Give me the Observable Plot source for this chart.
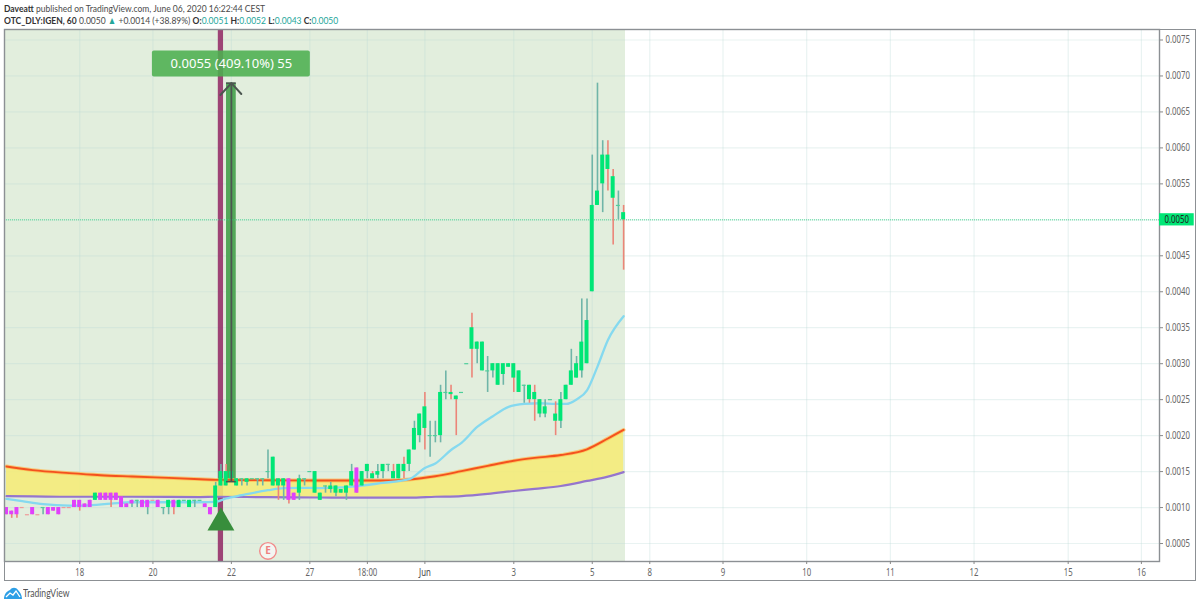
<!DOCTYPE html>
<html><head><meta charset="utf-8">
<script src="https://cdn.jsdelivr.net/npm/d3@7"></script>
<script src="https://cdn.jsdelivr.net/npm/@observablehq/plot@0.6"></script>
<style>
html,body{margin:0;padding:0;background:#fff;width:1200px;height:605px;overflow:hidden;font-family:"Lato",sans-serif}
#head{height:28px;box-sizing:border-box;padding:2px 0 0 4px;font-size:10.2px;line-height:12px;color:#4a4a4a;white-space:nowrap;transform:scaleX(.836);transform-origin:4px 0}
#head b{color:#333;font-weight:700}#head i{font-style:normal;color:#26a69a}
#chart{position:relative;height:553px}
#chart svg{display:block}
#outer{position:absolute;left:4px;top:0.5px;width:1192px;height:552px;box-sizing:border-box;border:1px solid #8c9094;pointer-events:none}
#foot{height:24px;position:relative;font-size:10.5px;color:#555}
#foot span{position:absolute;left:23px;top:5px;line-height:14px;transform:scaleX(.82);transform-origin:0 0}
#foot svg{position:absolute;left:4px;top:5px}
</style></head><body>
<div id="head"><div><b>Daveatt</b> published on TradingView.com, June 06, 2020 16:22:44 CEST</div>
<div><b>OTC_DLY:IGEN, 60</b> 0.0050 <i>▲</i> +0.0014 (+38.89%) <b>O:</b><i>0.0051</i> <b>H:</b><i>0.0052</i> <b>L:</b><i>0.0043</i> <b>C:</b><i>0.0050</i></div></div>
<div id="chart"></div>
<div id="foot"><svg width="18" height="13" viewBox="0 0 18 13"><path d="M0 13C0 8 3 5 6 4C8 1 12 1 14 4C16 6 18 9 18 13Z" fill="#2e9fe6"/><path d="M2 11L6 7L9 9L12 5L16 11" fill="none" stroke="#fff" stroke-width="1.3"/></svg><span>TradingView</span></div>
<script>
// Prices are read in ticks of 0.0001, one entry per hourly bar
const tick = 0.0001;
const open = [10,9.5,10,10,9,10,9,10,10,10, 10,10,10,11,11,10.5,11,11,12,12, 12,12,11.5,10.5,10.5,11,11,10,11,11, 10,10,11,10,11,10,11,11,10.5,10, 10,13,15,14,13,14,13.5,14,14,14, 15,13,14,13,14,12,12,14,15,12, 11,13,12.5,12,12,12,13,15.5,13,15, 14.7,14.5,15,16,15,14,16,16,18,20, 24,20,20,20,26,26,25.5,26,30,35, 32,29,29,29,27,28.5,29.5,30,26,27, 27,26,23,23,25,23,22,25,27,28, 29,30,40,52,55,59,56,52,51];
const close = [9,9,9,10,9,9,9,10,9,9.5, 9,10,10,10,10,10,10,12,11,11, 11,11,10,10,11,11,10,11,11,10, 10,11,10,11,11,11,11,11,10,9, 13,15,13,15,14,14,14,14,14,14, 15,17,13,14,11,11,14,14,15,15, 12,13,13,13,12.5,13,15,12,15,16, 14,15,16,16,14,16,15,18,21,23, 21,20,20,26,26,25.7,25,26,30,32, 33,33,29,30,30,30,30,28,29,27, 25,25,25,24,25,22,25,27,29,30, 33,36,52,54,59,57,53,52,50];
const high = [10,9.5,10,10,9,10,9,10,10,10, 10,10,10,11,11,10.5,11,12,12,12, 12,12,11.5,10.5,11,11,11,11,11,11, 10,11,11,11,11,11,11,11,10.5,10, 13.5,16,16,15,14,14,14,14,14,14, 18,17,14,14,14,12,14.5,14,15,15, 12,13,13.5,13,12.5,13,16,15.5,15,16, 15,16,16,16,16,16,17,18,22,23, 26,22,22,27,29,27,25.5,26,30,37, 33,33,31,30,30,30,30,30,29,27, 27,27,25,25,25,24.7,26,27,32,31, 39,39,59,69,61,61,57,54,52];
const low = [9,8.5,8.5,10,9,9,9,9,9,9.5, 9,10,10,10,9.5,10,10,11,11,11, 10,11,10,10,10,10,10,9,11,10, 9,9,9,10,11,10,10,11,10,9, 10,13,13,14,13,13,13,14,13,13, 14,13,11,11,10.5,11,11,13,15,12, 11,12,12,11.5,12,11,13,12,13,14, 14,14,14,15,14,14,14,15,18,19, 18,17,19,19,25,25,20,26,30,28, 30,29,26,28,27,27,29.5,26,26,24.5, 24.5,22,22.5,22.5,25,20,21,25,27,28, 28,30,40,52,51,54,46.5,50,43];
const magentaBars = [0,1,2,3,4,5,6,8,9,10,11,12,13,14,15,16,18,19,20,21,22,23,24,26,27,28,29,32,38,39,54,55,67];

// Moving averages read at sampled bars
const bandBars = [0,5,12,18,24,31,37,40,50,60,66,73,77,82,87,92,97,101,106,111,115,118];
const slowUpper = [15.71,15.2,14.78,14.5,14.32,14.12,13.94,13.85,13.8,13.76,13.76,13.76,13.9,14.36,15.06,15.8,16.5,16.9,17.3,18.1,19.6,20.8];
const slowLower = [11.58,11.55,11.5,11.5,11.5,11.48,11.46,11.5,11.44,11.4,11.37,11.37,11.37,11.5,11.6,11.9,12.3,12.6,13.0,13.7,14.3,14.92];
const fastBars = [0,3,7,12,15,20,24,31,37,40,42,45,50,53,58,60,66,72,77,80,82,85,87,90,93,96,99,102,105,107,109,111,113,115,118];
const fastLine = [11.2,10.88,10.47,10.28,10.28,10.56,10.74,10.74,10.74,10.8,11.26,11.72,12.41,12.7,12.73,12.7,12.9,13.43,13.94,15.5,16.13,18,19,21.2,22.7,24,24.4,24.5,24.4,24.4,25.03,26.3,29.6,33.3,36.6];

const xTickBars = [14,28,43,58,69,80,97,112,123,137,153,169,185,203,217];
const xTickLabels = ["18","20","22","27","18:00","Jun","3","5","8","9","10","11","12","15","16"];
const priceTicks = [5,10,15,20,25,30,35,40,45,50,55,60,65,70,75];
const lastPrice = 50;
const signalBar = 41, rangeBar = 43, earningsBar = 50, lastShadedEdge = 118.36;
const rangeTop = 69, rangeBottom = 13.6;
const rangeLabel = "0.0055 (409.10%) 55";

const domX = [-0.38, 220.46], domY = [2.5, 76.46];
const p = v => v * tick;
const bars = open.map((o,i)=>({i,o:p(o),c:p(close[i]),h:p(high[i]),l:p(low[i]),down:close[i]<o,mag:magentaBars.includes(i),flat:close[i]===o}));
const band = bandBars.map((b,k)=>({b,u:p(slowUpper[k]),d:p(slowLower[k])}));
const fast = fastBars.map((b,k)=>({b,v:p(fastLine[k])}));
const wickCol = d=>d.down?"#ec8579":"#6fb5a8";
const grid = "#bcd9d6";

const plot = Plot.plot({
  width:1200,height:553,marginTop:1,marginBottom:20,marginLeft:4,marginRight:41,
  style:{fontFamily:"Noto Sans",fontSize:"10px",background:"transparent"},
  x:{domain:domX,axis:null},
  y:{domain:domY.map(p),axis:null},
  marks:[
    Plot.rect([0],{x1:domX[0],x2:lastShadedEdge,y1:p(domY[0]),y2:p(domY[1]),fill:"#e2eedd"}),
    Plot.gridX(xTickBars,{stroke:grid,strokeOpacity:0.32,strokeWidth:1.2}),
    Plot.gridY(priceTicks.map(p),{stroke:grid,strokeOpacity:0.32,strokeWidth:1.2}),
    Plot.rect([signalBar],{x1:d=>d-0.5,x2:d=>d+0.5,y1:p(domY[0]),y2:p(domY[1]),fill:"#8e1f5e",fillOpacity:0.82}),
    Plot.rect([rangeBar],{x1:d=>d-0.93,x2:d=>d+0.93,y1:p(rangeBottom),y2:p(rangeTop),fill:"#3f9e47",fillOpacity:0.88}),
    Plot.areaY(band,{x:"b",y1:"u",y2:"d",fill:"#f5ec78",fillOpacity:0.88,curve:"monotone-x"}),
    Plot.line(band,{x:"b",y:"d",stroke:"#9575cd",strokeWidth:2.2,curve:"monotone-x"}),
    Plot.line(band,{x:"b",y:"u",stroke:"#ffb74d",strokeWidth:3.8,strokeOpacity:0.7,curve:"monotone-x"}),
    Plot.line(band,{x:"b",y:"u",stroke:"#f4511e",strokeWidth:1.9,curve:"monotone-x"}),
    Plot.line(fast,{x:"b",y:"v",stroke:"#85d9ef",strokeWidth:2.3,curve:"monotone-x"}),
    Plot.ruleY([p(lastPrice)],{stroke:"#35d68a",strokeWidth:1,strokeDasharray:"1 1",strokeOpacity:0.85}),
    Plot.ruleX(bars,{x:"i",y1:"l",y2:"h",stroke:wickCol,strokeWidth:1.6}),
    Plot.rect(bars.filter(d=>!d.flat),{x1:d=>d.i-0.38,x2:d=>d.i+0.38,y1:"o",y2:"c",fill:d=>d.mag?"#e040fb":"#00e676"}),
    Plot.ruleY(bars.filter(d=>d.flat),{x1:d=>d.i-0.38,x2:d=>d.i+0.38,y:"o",stroke:d=>d.mag?"#ef9a9a":"#4fcf9a",strokeWidth:1.2}),
    Plot.ruleX([rangeBar],{y1:p(rangeBottom),y2:p(rangeTop),stroke:"#4c5650",strokeWidth:1.8}),
    Plot.ruleY([p(rangeBottom),p(rangeTop)],{x1:rangeBar-0.93,x2:rangeBar+0.93,stroke:"#4c5650",strokeWidth:1.6}),
    Plot.line([[40.9,67.35],[rangeBar,rangeTop],[44.9,67.5]],{x:d=>d[0],y:d=>p(d[1]),stroke:"#4c5650",strokeWidth:2}),
    Plot.rect([0],{x1:27.9,x2:58.1,y1:p(69.85),y2:p(73.47),fill:"#4caf50",fillOpacity:0.88,rx:2}),
    Plot.text([rangeLabel],{x:rangeBar,y:p(71.66),text:d=>d,fill:"#fff",fontSize:13,letterSpacing:"0.37px"}),
    Plot.dot([signalBar],{x:d=>d,y:p(7.88),symbol:"triangle",r:10,fill:"#388e3c"}),
    Plot.dot([earningsBar],{x:d=>d,y:p(3.97),r:8.3,fill:"#f3f6f2",stroke:"#f28b8b",strokeWidth:1.4}),
    Plot.text(["E"],{x:earningsBar,y:p(3.97),text:d=>d,fill:"#ef7f7f",fontSize:10,fontWeight:"bold"}),
    Plot.frame({stroke:"#8c9094",strokeWidth:1.4}),
    Plot.axisX(xTickBars,{tickSize:3,tickPadding:4,fill:"#666",stroke:"#888",fontSize:10,tickFormat:d=>d===80?"":xTickLabels[xTickBars.indexOf(d)],label:null}),
    Plot.axisX([80],{tickSize:0,tickPadding:7,fill:"#444",fontSize:10,tickFormat:()=>"Jun",label:null}),
    Plot.axisY(priceTicks.filter(t=>t!==lastPrice).map(p),{anchor:"right",tickSize:3,tickPadding:3,fill:"#666",stroke:"#888",fontSize:10,tickFormat:d=>d.toFixed(4),label:null}),
    Plot.rect([lastPrice],{x1:domX[1],x2:227.1,y1:d=>p(d-0.85),y2:d=>p(d+0.85),fill:"#00e676"}),
    Plot.text([lastPrice],{x:domX[1]+0.95,y:p,text:d=>p(d).toFixed(4),fill:"#222",textAnchor:"start",fontSize:10})
  ]
});
const host=document.getElementById("chart");
host.appendChild(plot);
const o=document.createElement("div");o.id="outer";host.appendChild(o);
// The reference's axis face is narrower than any installed font: condense the labels to its width
const narrow = 0.78;
const axisLabels = new Set([...xTickLabels, ...priceTicks.map(t=>p(t).toFixed(4))]);
d3.select(plot).selectAll("text").each(function(){
  if(!axisLabels.has(this.textContent.trim())) return;
  const w=this.getComputedTextLength();
  if(w>0){this.setAttribute("textLength",(w*narrow).toFixed(1));this.setAttribute("lengthAdjust","spacingAndGlyphs");}
});
</script></body></html>
